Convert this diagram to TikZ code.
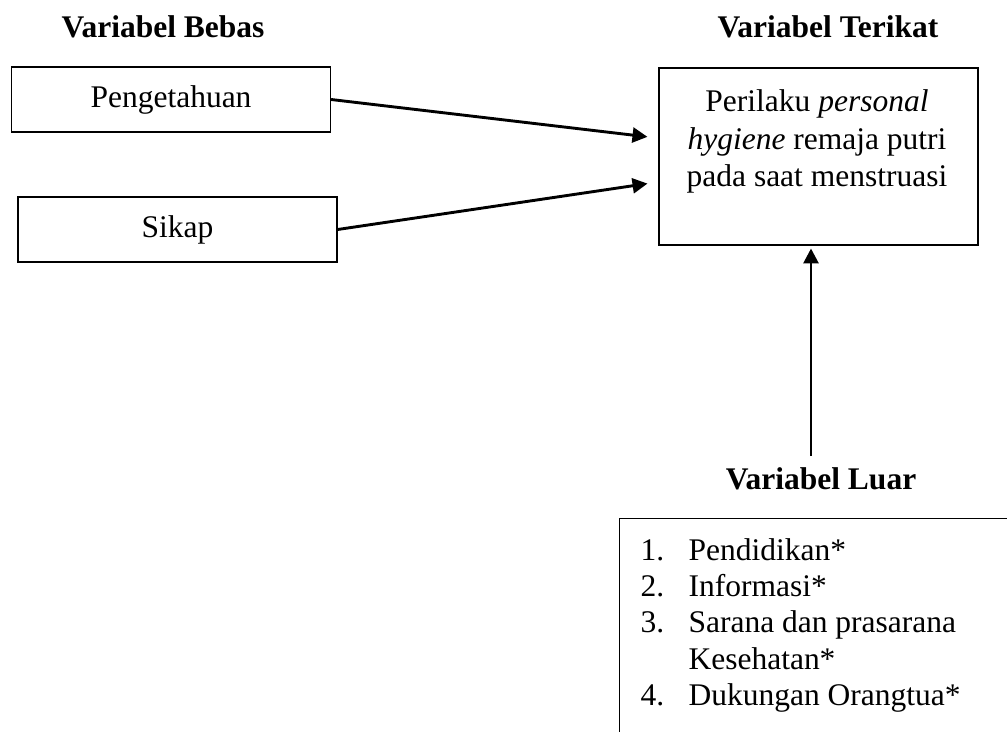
\documentclass[tikz,border=0pt]{standalone}
\usepackage{fontspec}
\setmainfont{Liberation Serif}
\usetikzlibrary{arrows.meta,positioning,calc}

\newcommand{\itemnum}[1]{\makebox[18.3pt][l]{#1}}

\begin{document}
\begin{tikzpicture}[
    x=0.381pt, y=-0.381pt,
    font=\fontsize{12}{13.8}\selectfont,
    varbox/.style={rectangle, draw=black, line width=0.5pt, minimum width=121.5pt, minimum height=24.8pt, align=center},
    heading/.style={font=\fontsize{12}{13.8}\selectfont\bfseries, anchor=base},
    arrow/.style={-{Triangle[length=5.7pt, width=5.7pt]}, line width=1.1pt}
]
\clip (0,0) rectangle (1007,731);

% Variabel bebas
\node[heading] (bebas) at (163,37) {Variabel Bebas};
\node[varbox] (pengetahuan) at (171,99.5) {Pengetahuan};
\node[varbox] (sikap) at (177.5,229.5) {Sikap};

% Variabel terikat
\node[heading] (terikat) at (828,37) {Variabel Terikat};
\node[varbox, minimum height=67.4pt] (perilaku) at (818.5,156.5) {};
\node[align=center, inner sep=0pt, font=\fontsize{12}{14.3}\selectfont] (perilakutext) at (817,141.5) {Perilaku \textit{personal}\\ \textit{hygiene} remaja putri\\ pada saat menstruasi};

% Variabel luar
\node[heading] (luar) at (821,489) {Variabel Luar};
\node[rectangle, draw=black, line width=0.5pt, anchor=north west, minimum width=200pt, minimum height=100pt] (luarbox) at (619,518) {};
\node[anchor=north west, align=left, inner sep=0pt] (luarlist) at (640,538) {\itemnum{1.}Pendidikan*\\ \itemnum{2.}Informasi*\\ \itemnum{3.}Sarana dan prasarana\\ \itemnum{}Kesehatan*\\ \itemnum{4.}Dukungan Orangtua*};

% Arrows
\draw[arrow, shorten >=4.2pt] (pengetahuan.east) -- ([yshift=7pt]perilaku.west);
\draw[arrow, shorten >=4.2pt] (sikap.east) -- ([yshift=-9.7pt]perilaku.west);
\coordinate (luarup) at (811,456);
\draw[arrow, shorten >=1.1pt] (luarup) -- (luarup |- perilaku.south);

\end{tikzpicture}
\end{document}
